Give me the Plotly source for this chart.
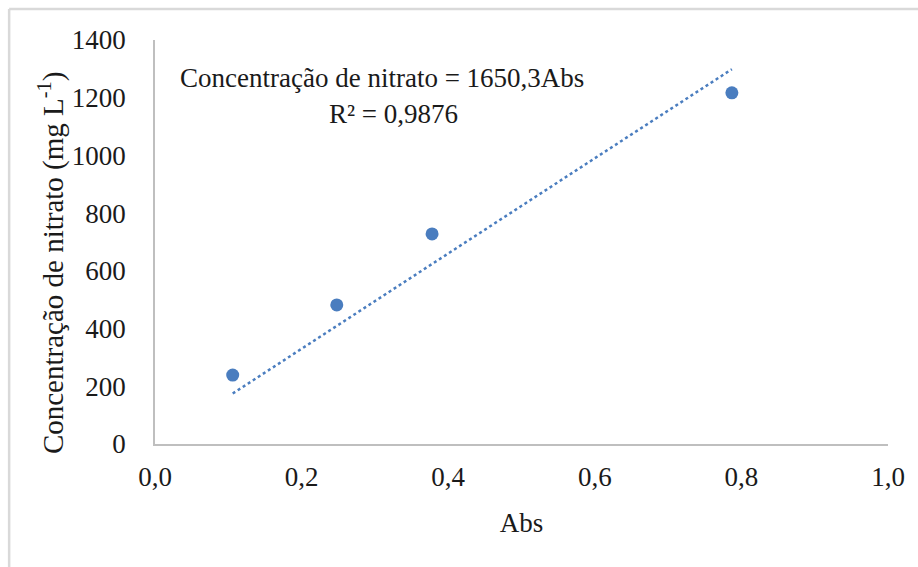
import plotly.graph_objects as go

# Calibration data: absorbance vs nitrate concentration
abs_values = [0.106, 0.248, 0.378, 0.787]
nitrate_mg_l = [239, 482, 728, 1217]

# Linear fit through the origin (as reported)
slope = 1650.3
r_squared = "0,9876"

x_ticks = [0.0, 0.2, 0.4, 0.6, 0.8, 1.0]
y_ticks = [0, 200, 400, 600, 800, 1000, 1200, 1400]

blue = "#4a7dbf"
axis_gray = "#bfbfbf"
font_family = "Liberation Serif"
text_font = dict(family=font_family, size=27, color="#1a1a1a")

fit_x = [min(abs_values), max(abs_values)]
fit_y = [slope * v for v in fit_x]

fig = go.Figure()
fig.add_trace(go.Scatter(
    x=fit_x, y=fit_y, mode="lines",
    line=dict(color=blue, width=2.5, dash="dot"),
    hoverinfo="skip", showlegend=False,
))
fig.add_trace(go.Scatter(
    x=abs_values, y=nitrate_mg_l, mode="markers",
    marker=dict(color=blue, size=13, line=dict(width=0)),
    showlegend=False,
))

fig.update_layout(
    width=918, height=567,
    margin=dict(l=155, r=30, t=40, b=123),
    paper_bgcolor="white", plot_bgcolor="white",
    separators=", ",
    font=text_font,
    xaxis=dict(
        range=[0, 1.0], tickvals=x_ticks, tickformat=".1f",
        tickfont=text_font, ticklabelstandoff=8,
        showgrid=False, zeroline=False,
        showline=True, linecolor=axis_gray, linewidth=1.5,
        ticks="", ticklen=0,
        title=dict(text="Abs", font=text_font, standoff=22),
    ),
    yaxis=dict(
        range=[0, 1400], tickvals=y_ticks, tickformat="d",
        tickfont=text_font, ticklabelstandoff=22,
        showgrid=False, zeroline=False,
        showline=True, linecolor=axis_gray, linewidth=1.5,
        ticks="", ticklen=0,
    ),
    annotations=[
        # y-axis title
        dict(x=-0.142, y=0.45, xref="paper", yref="paper", showarrow=False,
             text="Concentração de nitrato (mg L<sup>-1</sup>)", textangle=-90,
             font=dict(family=font_family, size=29, color="#1a1a1a"),
             xanchor="center", yanchor="middle"),
        dict(x=0.31, y=1267, xref="x", yref="y", showarrow=False,
             text="Concentração de nitrato = 1650,3Abs",
             font=text_font, xanchor="center", yanchor="middle"),
        dict(x=0.325, y=1143, xref="x", yref="y", showarrow=False,
             text=f"R² = {r_squared}",
             font=text_font, xanchor="center", yanchor="middle"),
    ],
    shapes=[
        # outer frame lines (top and left)
        dict(type="line", xref="paper", yref="paper",
             x0=-0.199, x1=1.05, y0=1.077, y1=1.077,
             line=dict(color="#d9d9d9", width=2.5)),
        dict(type="line", xref="paper", yref="paper",
             x0=-0.199, x1=-0.199, y0=-0.31, y1=1.077,
             line=dict(color="#d9d9d9", width=2.5)),
    ],
)

fig.write_html("out.html")
